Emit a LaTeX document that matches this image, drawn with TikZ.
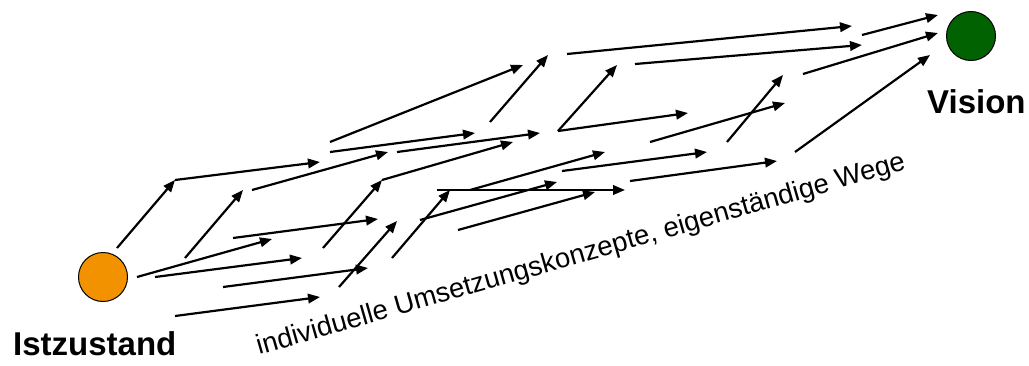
\documentclass[tikz,border=0pt]{standalone}
\usepackage{fontspec}
\setmainfont{Liberation Sans}
\usetikzlibrary{arrows.meta}
\definecolor{startorange}{RGB}{242,146,0}
\definecolor{goalgreen}{RGB}{0,98,0}
\tikzset{
  flow/.style={line width=2.2pt, -{Triangle[length=12pt,width=9.5pt]}},
  state/.style={circle, draw=black, line width=1pt, minimum size=49pt, inner sep=0pt},
  bigtitle/.style={font=\bfseries\fontsize{33}{40}\selectfont, inner sep=0pt, anchor=base west},
}
\begin{document}
\begin{tikzpicture}[x=1pt,y=-1pt]
\useasboundingbox (0,0) rectangle (1029,365);

% start and goal states
\node[state, fill=startorange] (ist) at (103,277) {};
\node[state, fill=goalgreen] (vision) at (971,36) {};
\node[bigtitle] (istlabel) at (13,355) {Istzustand};
\node[bigtitle] (visionlabel) at (927,113) {Vision};

% caption along the bundle of paths
\node[inner sep=0pt, anchor=base west, rotate=16,
      font=\fontsize{27.5}{32}\selectfont] (caption) at (259,355)
  {individuelle Umsetzungskonzepte, eigenständige Wege};

% way points
\coordinate (a1) at (117,248);  \coordinate (j1) at (175,180);
\coordinate (a2) at (320,162);
\coordinate (b1) at (185,258);  \coordinate (b2) at (243,190);
\coordinate (c1) at (252,190);  \coordinate (c2) at (388,152);
\coordinate (d1) at (137,277);  \coordinate (d2) at (272,239);
\coordinate (e1) at (155,277);  \coordinate (e2) at (302,258);
\coordinate (f1) at (233,238);  \coordinate (f2) at (378,219);
\coordinate (g1) at (223,287);  \coordinate (g2) at (368,268);
\coordinate (h1) at (175,316);  \coordinate (h2) at (320,297);
\coordinate (k1) at (323,248);  \coordinate (j2) at (382,180);
\coordinate (k2) at (513,142);
\coordinate (l1) at (339,287);  \coordinate (l2) at (397,221);
\coordinate (m1) at (392,258);  \coordinate (m2) at (450,190);
\coordinate (n1) at (437,190);  \coordinate (n2) at (625,190);
\coordinate (o1) at (420,220);  \coordinate (o2) at (557,182);
\coordinate (q1) at (470,190);  \coordinate (q2) at (605,152);
\coordinate (r1) at (458,230);  \coordinate (r2) at (595,192);
\coordinate (s1) at (330,142);  \coordinate (s2) at (523,65);
\coordinate (t1) at (330,152);  \coordinate (t2) at (475,133);
\coordinate (u1) at (397,152);  \coordinate (u2) at (540,133);
\coordinate (v1) at (490,122);  \coordinate (v2) at (548,55);
\coordinate (j3) at (558,131);  \coordinate (w1) at (617,65);
\coordinate (w2) at (688,113);
\coordinate (x1) at (562,171);  \coordinate (x2) at (707,152);
\coordinate (y1) at (630,181);  \coordinate (y2) at (777,161);
\coordinate (z1) at (650,142);  \coordinate (z2) at (785,103);
\coordinate (aa1) at (727,142); \coordinate (aa2) at (783,75);
\coordinate (bb1) at (567,54);  \coordinate (bb2) at (852,26);
\coordinate (cc1) at (635,64);  \coordinate (cc2) at (862,45);
\coordinate (dd1) at (862,35);  \coordinate (dd2) at (938,15);
\coordinate (ee1) at (803,74);  \coordinate (ee2) at (938,33);
\coordinate (ff1) at (795,152); \coordinate (ff2) at (930,55);

% path segments
\draw[flow] (a1) -- (j1);
\draw[flow] (j1) -- (a2);
\draw[flow] (b1) -- (b2);
\draw[flow] (c1) -- (c2);
\draw[flow] (d1) -- (d2);
\draw[flow] (e1) -- (e2);
\draw[flow] (f1) -- (f2);
\draw[flow] (g1) -- (g2);
\draw[flow] (h1) -- (h2);
\draw[flow] (k1) -- (j2);
\draw[flow] (j2) -- (k2);
\draw[flow] (l1) -- (l2);
\draw[flow] (m1) -- (m2);
\draw[flow] (n1) -- (n2);
\draw[flow] (o1) -- (o2);
\draw[flow] (q1) -- (q2);
\draw[flow] (r1) -- (r2);
\draw[flow] (s1) -- (s2);
\draw[flow] (t1) -- (t2);
\draw[flow] (u1) -- (u2);
\draw[flow] (v1) -- (v2);
\draw[flow] (j3) -- (w1);
\draw[flow] (j3) -- (w2);
\draw[flow] (x1) -- (x2);
\draw[flow] (y1) -- (y2);
\draw[flow] (z1) -- (z2);
\draw[flow] (aa1) -- (aa2);
\draw[flow] (bb1) -- (bb2);
\draw[flow] (cc1) -- (cc2);
\draw[flow] (dd1) -- (dd2);
\draw[flow] (ee1) -- (ee2);
\draw[flow] (ff1) -- (ff2);
\end{tikzpicture}
\end{document}
